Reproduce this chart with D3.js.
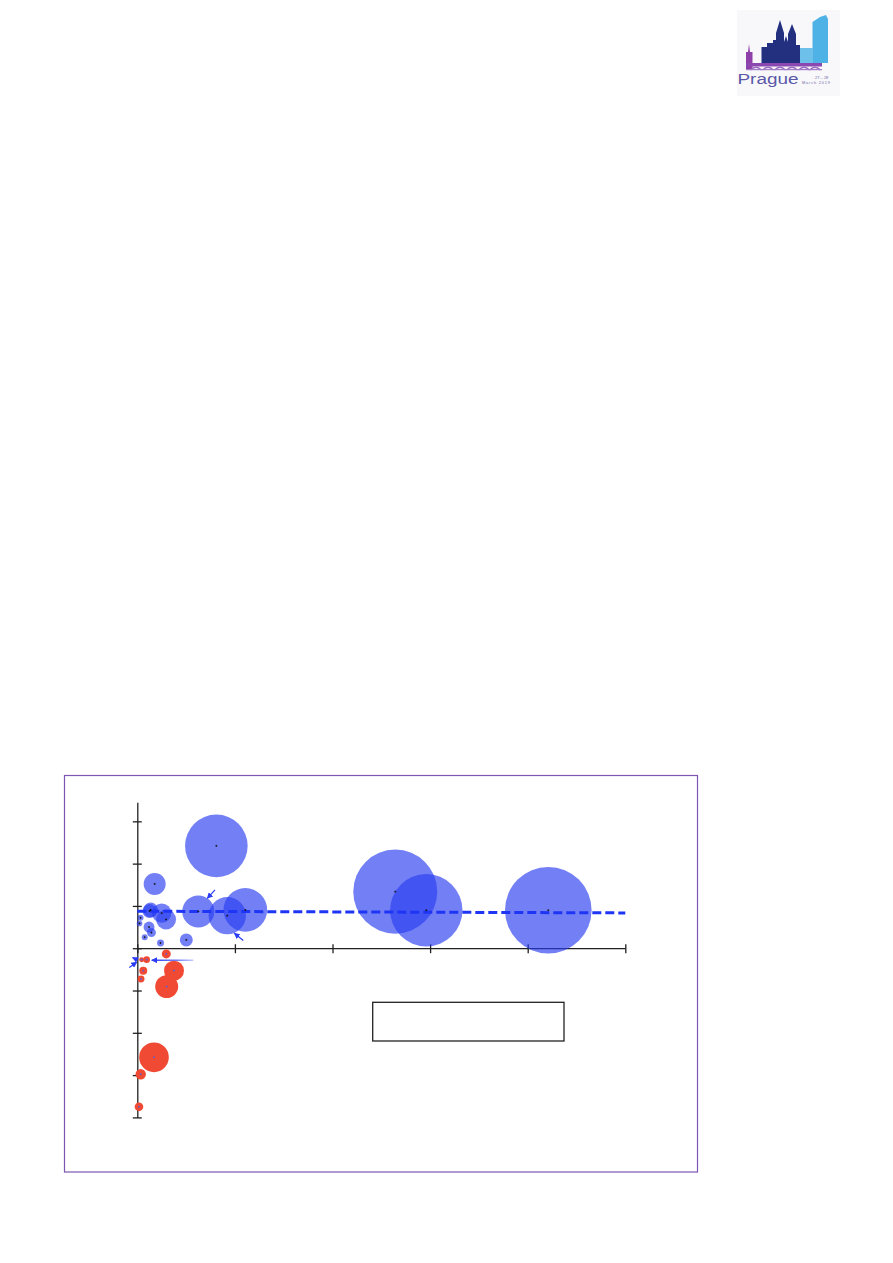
<!DOCTYPE html>
<html><head><meta charset="utf-8">
<script src="https://cdn.jsdelivr.net/npm/d3@7"></script>
<style>html,body{margin:0;padding:0;background:#fff;} svg{display:block}</style>
</head><body>
<script>
// ---- data ----
const xTicks = [0, 1, 2, 3, 4, 5];
const yTicks = [-4, -3, -2, -1, 0, 1, 2, 3];

const blueX    = [0.81, 0.178, 0.625, 0.922, 1.107, 0.137, 0.125, 0.25, 0.295, 0.033, 0.023, 0.12, 0.145, 0.076, 0.238, 0.502, 2.643, 2.961, 4.211];
const blueY    = [2.42, 1.52, 0.87, 0.77, 0.905, 0.905, 0.88, 0.83, 0.68, 0.72, 0.586, 0.50, 0.369, 0.26, 0.125, 0.196, 1.338, 0.898, 0.898];
const blueSize = [52.3, 6.45, 13.7, 18.6, 25.4, 2.9, 2.6, 5.0, 5.3, 0.48, 0.42, 1.6, 1.08, 0.48, 0.65, 2.25, 94.1, 69.9, 100];

const redX    = [0.297, 0.376, 0.301, 0.096, 0.045, 0.061, 0.038, 0.171, 0.035, 0.017];
const redY    = [-0.135, -0.53, -0.908, -0.27, -0.27, -0.53, -0.73, -2.58, -2.98, -3.75];
const redSize = [1.08, 5.33, 7.05, 0.58, 0.33, 0.85, 0.65, 11.7, 1.44, 0.99];

const trendX = [0, 5];
const trendY = [0.875, 0.835];

// annotation arrows (data coords): from -> to
const arrowX1 = [0.796, 1.086, 0.574, 0.002, -0.082];
const arrowY1 = [1.38, 0.184, -0.284, -0.277, -0.458];
const arrowX2 = [0.717, 0.994, 0.148, -0.049, -0.006];
const arrowY2 = [1.18, 0.355, -0.284, -0.218, -0.330];

// ---- drawing ----
const W = 893, H = 1263;
const svg = d3.select("body").append("svg").attr("width", W).attr("height", H);
svg.append("rect").attr("width", W).attr("height", H).attr("fill", "#fff");

const defs = svg.append("defs");
defs.append("marker").attr("id", "ah").attr("viewBox", "0 0 10 10")
  .attr("refX", 9).attr("refY", 5).attr("markerWidth", 6).attr("markerHeight", 6)
  .attr("markerUnits", "userSpaceOnUse").attr("orient", "auto")
  .append("path").attr("d", "M0,0 L10,5 L0,10 Z").attr("fill", "#2a3cf5");
const grad = defs.append("linearGradient").attr("id", "fade").attr("gradientUnits", "userSpaceOnUse")
  .attr("x1", 194).attr("x2", 150).attr("y1", 0).attr("y2", 0);
grad.append("stop").attr("offset", 0).attr("stop-color", "#c8cffd");
grad.append("stop").attr("offset", 0.4).attr("stop-color", "#6f7ef8");
grad.append("stop").attr("offset", 1).attr("stop-color", "#2a3cf5");

// frame
svg.append("rect").attr("x", 64.5).attr("y", 775.5).attr("width", 633).attr("height", 396.5)
  .attr("fill", "none").attr("stroke", "#7d55b2").attr("stroke-width", 1.2);

const x = d3.scaleLinear().domain([0, 5]).range([137.3, 625.3]);
const y = d3.scaleLinear().domain([-4, 3.45]).range([1117.4, 802.3]);
const r = d3.scaleSqrt().domain([0, 100]).range([0, 43.3]);

// axes
const gx = svg.append("g").attr("transform", `translate(0,${y(0)})`)
  .call(d3.axisBottom(x).tickValues(xTicks).tickFormat("").tickSize(5).tickSizeOuter(0));
gx.selectAll(".tick line").attr("y1", -4).attr("y2", 5);
const gy = svg.append("g").attr("transform", `translate(${x(0)},0)`)
  .call(d3.axisLeft(y).tickValues(yTicks).tickFormat("").tickSize(4).tickSizeOuter(0));
gy.selectAll(".tick line").attr("x1", -4.5).attr("x2", 4.5);
svg.selectAll(".domain, .tick line").attr("stroke", "#222").attr("stroke-width", 1.3);

// legend box (empty)
svg.append("rect").attr("x", 372.7).attr("y", 1002.3).attr("width", 191.3).attr("height", 38.7)
  .attr("fill", "none").attr("stroke", "#222").attr("stroke-width", 1.3);

// red bubbles
const red = redX.map((v, i) => ({x: v, y: redY[i], s: redSize[i]}));
svg.append("g").selectAll("circle").data(red).join("circle")
  .attr("cx", d => x(d.x)).attr("cy", d => y(d.y)).attr("r", d => r(d.s))
  .attr("fill", "#f14a34");
svg.append("g").selectAll("path").data(red).join("path")
  .attr("d", d => `M${x(d.x)-1},${y(d.y)}h2M${x(d.x)},${y(d.y)-1}v2`)
  .attr("stroke", "#5060e0").attr("stroke-width", 0.8);

// blue bubbles
const blue = blueX.map((v, i) => ({x: v, y: blueY[i], s: blueSize[i]}));
svg.append("g").selectAll("circle").data(blue).join("circle")
  .attr("cx", d => x(d.x)).attr("cy", d => y(d.y)).attr("r", d => r(d.s))
  .attr("fill", "rgb(40,60,240)").attr("fill-opacity", 0.65);

// trend line
const trend = trendX.map((v, i) => [x(v), y(trendY[i])]);
svg.append("path").attr("d", d3.line()(trend)).attr("fill", "none")
  .attr("stroke", "#1f35f5").attr("stroke-width", 3).attr("stroke-dasharray", "9,4");

svg.append("g").selectAll("path").data(blue).join("path")
  .attr("d", d => `M${x(d.x)-1},${y(d.y)}h2M${x(d.x)},${y(d.y)-1}v2`)
  .attr("stroke", "#111").attr("stroke-width", 0.8);

// arrows
const arrows = arrowX1.map((v, i) => ({x1: v, y1: arrowY1[i], x2: arrowX2[i], y2: arrowY2[i]}));
svg.append("g").selectAll("line").data(arrows).join("line")
  .attr("x1", d => x(d.x1)).attr("y1", d => y(d.y1))
  .attr("x2", d => x(d.x2)).attr("y2", d => y(d.y2))
  .attr("stroke", (d, i) => i === 2 ? "url(#fade)" : "#2a3cf5")
  .attr("stroke-width", (d, i) => i === 2 ? 1.6 : 1.2)
  .attr("marker-end", "url(#ah)");

// ---- Prague logo ----
const L = svg.append("g");
L.append("rect").attr("x", 737).attr("y", 10).attr("width", 103).attr("height", 86).attr("fill", "#f8f8fa");
// light blue towers
L.append("path").attr("d", "M812.5,63 L812.5,22 L820,17 L826,15 L828,19 L828,63 Z").attr("fill", "#4fb2e6");
L.append("path").attr("d", "M797,63 L797,48 L813,48 L813,63 Z").attr("fill", "#6cc0ea");
// navy cathedral
L.append("path").attr("d",
  "M761.5,63 L761.5,47 L767,47 L767,43 L773,43 L773,40 L776,40 L776,33 L780,20 L784,33 L784,42 L786,36 L788,42 L788,34 L792,24 L796,34 L796,45 L800,45 L800,63 Z")
  .attr("fill", "#22307f");
// purple left tower
L.append("path").attr("d", "M746,70 L746,52 L748,52 L749,44 L750,52 L752.5,52 L752.5,70 Z").attr("fill", "#8e3fa8");
// bridge
L.append("rect").attr("x", 746).attr("y", 63).attr("width", 76).attr("height", 3.5).attr("fill", "#8a48b0");
const arches = [756, 768, 780, 792, 804, 815];
L.selectAll("path.arch").data(arches).join("path").attr("class", "arch")
  .attr("d", d => `M${d-5.5},70 Q${d},64.5 ${d+5.5},70`).attr("fill", "none")
  .attr("stroke", "#9a6cc0").attr("stroke-width", 1.3);
L.append("rect").attr("x", 746).attr("y", 69).attr("width", 76).attr("height", 1.2).attr("fill", "#a27cc8");
L.append("text").attr("x", 737.5).attr("y", 84).attr("font-family", "Liberation Sans, Arial, sans-serif")
  .attr("font-size", 15.5).attr("textLength", 61).attr("lengthAdjust", "spacingAndGlyphs")
  .attr("fill", "#5a58a8").text("Prague");
L.append("text").attr("x", 815).attr("y", 79).attr("font-family", "Liberation Sans, Arial, sans-serif")
  .attr("font-size", 4).attr("fill", "#6c6aa8").text("27 – 28");
L.append("text").attr("x", 802).attr("y", 84).attr("font-family", "Liberation Sans, Arial, sans-serif")
  .attr("font-size", 4).attr("textLength", 28).attr("fill", "#6c6aa8").text("March 2019");
</script>
</body></html>
